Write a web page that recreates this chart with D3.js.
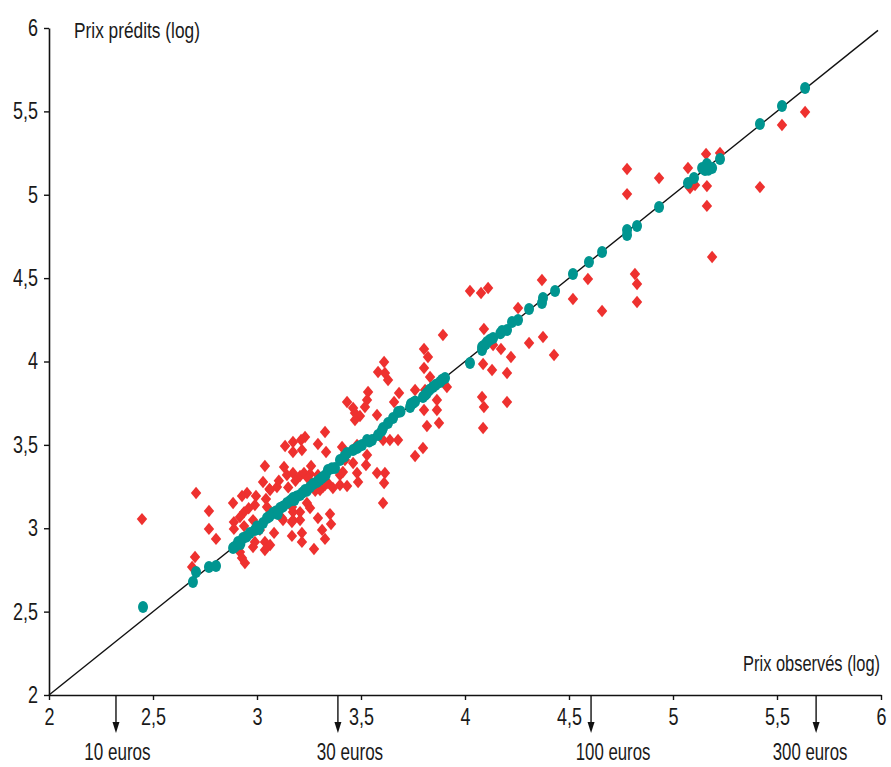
<!DOCTYPE html>
<html>
<head>
<meta charset="utf-8">
<script src="https://cdn.jsdelivr.net/npm/d3@7"></script>
<style>
  body { margin: 0; background: #fff; }
  svg { display: block; }
  text { font-family: "Liberation Sans", Arial, sans-serif; fill: #1a1a1a; }
</style>
</head>
<body>
<div id="chart"></div>
<script>
// red diamonds: observed (x) vs predicted (y), log prices
var redObserved = [3.327, 3.231, 3.135, 3.173, 3.212, 3.173, 3.216, 3.293, 3.332, 3.409,
  3.038, 3.130, 3.144, 3.173, 3.207, 3.260, 3.255, 3.293, 3.029, 3.063,
  3.096, 2.952, 2.928, 2.995, 2.885, 2.990, 3.043, 3.048, 2.938, 2.918,
  2.889, 2.889, 2.981, 2.938, 3.014, 3.240, 3.255, 3.207, 3.173, 3.168,
  3.173, 3.125, 3.207, 3.293, 3.351, 3.356, 3.313, 3.327, 3.168, 3.216,
  3.216, 3.082, 3.038, 2.990, 2.981, 3.063, 3.038, 3.274, 2.918, 2.928,
  2.942, 3.168, 3.120, 3.423, 3.462, 3.524, 3.481, 3.486, 3.399, 3.399,
  3.433, 3.577, 3.615, 3.611, 3.606, 3.317, 3.341, 3.365, 3.303, 3.413,
  3.226, 3.327, 3.894, 3.803, 3.822, 3.803, 3.832, 3.611, 3.582, 3.615,
  3.630, 3.534, 3.529, 3.519, 3.433, 3.462, 3.471, 3.495, 3.471, 3.577,
  3.683, 3.659, 3.760, 3.808, 3.803, 3.865, 3.865, 3.913, 3.817, 3.875,
  3.678, 3.639, 3.606, 3.760, 3.798, 3.529, 3.481, 4.024, 4.077, 4.111,
  4.370, 4.591, 4.519, 4.659, 4.817, 4.827, 4.827, 4.255, 4.091, 4.135,
  4.173, 4.221, 4.087, 4.130, 4.202, 4.308, 4.375, 4.428, 4.082, 4.091,
  4.202, 4.087, 4.779, 4.779, 4.933, 5.072, 5.159, 5.226, 5.082, 5.106,
  5.163, 5.163, 5.418, 5.524, 5.635, 5.188, 2.447, 2.707, 2.769, 2.769,
  2.803, 2.702, 2.688, 3.105, 3.150, 3.185, 3.245, 3.280, 3.060, 2.960]
var redPredicted = [3.577, 3.547, 3.493, 3.517, 3.529, 3.457, 3.469, 3.505, 3.457, 3.487,
  3.373, 3.367, 3.319, 3.331, 3.313, 3.373, 3.325, 3.319, 3.277, 3.229,
  3.247, 3.211, 3.193, 3.193, 3.151, 3.139, 3.175, 3.127, 3.097, 3.067,
  3.037, 2.996, 3.049, 3.013, 2.990, 3.151, 3.121, 3.097, 3.097, 3.127,
  3.049, 3.049, 3.049, 3.061, 3.085, 3.025, 2.990, 2.936, 2.954, 2.972,
  2.918, 2.972, 2.918, 2.918, 2.888, 2.900, 2.870, 2.876, 2.858, 2.822,
  2.792, 3.037, 3.061, 3.409, 3.391, 3.379, 3.331, 3.277, 3.319, 3.259,
  3.253, 3.331, 3.331, 3.271, 3.151, 3.247, 3.271, 3.241, 3.229, 3.337,
  3.331, 3.259, 4.159, 4.075, 4.027, 3.961, 3.907, 3.997, 3.937, 3.931,
  3.889, 3.817, 3.769, 3.727, 3.757, 3.721, 3.691, 3.673, 3.649, 3.679,
  3.811, 3.757, 3.829, 3.829, 3.709, 3.709, 3.769, 3.847, 3.613, 3.631,
  3.529, 3.529, 3.529, 3.433, 3.481, 3.439, 3.499, 4.423, 4.411, 4.441,
  4.489, 4.495, 4.375, 4.303, 4.525, 4.465, 4.357, 4.321, 4.195, 4.099,
  4.075, 4.027, 3.985, 3.949, 3.931, 4.111, 4.147, 4.039, 3.787, 3.727,
  3.757, 3.601, 5.154, 5.004, 5.100, 5.160, 5.244, 5.250, 5.040, 5.058,
  5.052, 4.933, 5.046, 5.418, 5.496, 4.627, 3.055, 3.211, 3.103, 2.996,
  2.936, 2.828, 2.768, 3.285, 3.245, 3.285, 3.300, 3.225, 3.235, 3.120]

// teal circles: observed (x) vs predicted (y)
var tealObserved = [2.452, 2.692, 2.707, 2.769, 2.803, 2.885, 2.909, 2.933, 2.966, 2.990,
  3.029, 3.048, 3.077, 3.111, 3.144, 3.173, 3.207, 3.231, 3.255, 3.288,
  3.317, 3.341, 3.375, 3.399, 3.433, 3.462, 3.481, 3.505, 3.529, 3.553,
  3.582, 3.606, 3.630, 3.654, 3.678, 3.736, 3.750, 3.798, 3.817, 3.846,
  3.880, 3.904, 4.024, 4.082, 4.082, 4.106, 4.135, 4.178, 4.202, 4.226,
  4.255, 4.308, 4.370, 4.375, 4.433, 4.519, 4.596, 4.659, 4.779, 4.779,
  4.827, 4.933, 5.072, 5.101, 5.154, 5.163, 5.188, 5.226, 5.418, 5.524,
  5.635, 2.895, 2.920, 2.950, 3.000, 3.060, 3.090, 3.125, 3.160, 3.190,
  3.220, 3.270, 3.300, 3.330, 3.360, 3.420, 3.490, 3.540, 3.600, 3.690,
  3.740, 3.760, 3.810, 3.830, 3.860, 3.890, 4.090, 4.100, 4.120, 4.170,
  5.140, 5.170, 3.010, 3.100, 3.180, 3.240, 3.310]
var tealPredicted = [2.528, 2.678, 2.738, 2.768, 2.774, 2.882, 2.918, 2.942, 2.972, 2.990,
  3.031, 3.061, 3.091, 3.121, 3.151, 3.181, 3.199, 3.229, 3.247, 3.277,
  3.307, 3.349, 3.361, 3.409, 3.451, 3.469, 3.481, 3.499, 3.529, 3.529,
  3.559, 3.601, 3.631, 3.661, 3.697, 3.727, 3.751, 3.787, 3.811, 3.847,
  3.877, 3.901, 3.991, 4.069, 4.087, 4.117, 4.141, 4.183, 4.189, 4.237,
  4.249, 4.315, 4.351, 4.381, 4.423, 4.525, 4.597, 4.657, 4.759, 4.789,
  4.813, 4.927, 5.070, 5.100, 5.148, 5.184, 5.160, 5.214, 5.424, 5.532,
  5.640, 2.890, 2.905, 2.950, 3.010, 3.070, 3.100, 3.130, 3.165, 3.190,
  3.215, 3.265, 3.290, 3.320, 3.360, 3.430, 3.490, 3.520, 3.585, 3.700,
  3.745, 3.760, 3.800, 3.830, 3.860, 3.890, 4.095, 4.105, 4.130, 4.170,
  5.160, 5.150, 2.995, 3.085, 3.170, 3.225, 3.300]

var tickValues = [2, 2.5, 3, 3.5, 4, 4.5, 5, 5.5, 6]
var euroLabels = ['10 euros', '30 euros', '100 euros', '300 euros']
var euroArrowAt = [2.322, 3.389, 4.606, 5.688]
var euroLabelAt = [2.329, 3.447, 4.712, 5.659]

var width = 891, height = 767

var svg = d3.select('#chart')
  .append('svg')
    .attr('width', width)
    .attr('height', height)

var x = d3.scaleLinear().domain([2, 6]).range([49, 881])
var y = d3.scaleLinear().domain([2, 6]).range([695, 28])

var fmt = d => String(d).replace('.', ',')

// squeeze a text horizontally to a given width (condensed look)
function squeeze(sel, px, py, w) {
  var len = sel.node().getComputedTextLength()
  sel.attr('transform', `translate(${px}, ${py}) scale(${w / len}, 1)`)
}

// axes
svg.append('g')
    .attr('transform', `translate(0, ${y(2)})`)
    .call(d3.axisBottom(x).tickValues(tickValues).tickSize(5).tickSizeOuter(0).tickPadding(9).tickFormat(fmt))
svg.append('g')
    .attr('transform', `translate(${x(2)}, 0)`)
    .call(d3.axisLeft(y).tickValues(tickValues).tickSize(5).tickSizeOuter(0).tickPadding(6).tickFormat(fmt))

svg.selectAll('.domain').attr('stroke', '#111').attr('stroke-width', 1.6)
svg.selectAll('.tick line').attr('stroke', '#111').attr('stroke-width', 1.4)
svg.selectAll('.tick text')
    .attr('font-size', 23)
    .attr('fill', '#1a1a1a')
    .attr('textLength', d => Number.isInteger(d) ? 10 : 25)
    .attr('lengthAdjust', 'spacingAndGlyphs')
    .style('font-family', '"Liberation Sans", Arial, sans-serif')

// axis titles
svg.append('text')
    .text('Prix prédits (log)')
    .attr('font-size', 22)
    .call(squeeze, 74, 38, 126)

svg.append('text')
    .text('Prix observés (log)')
    .attr('text-anchor', 'end')
    .attr('font-size', 22)
    .call(squeeze, 880, 671, 137)

// diagonal y = x
svg.append('line')
    .attr('x1', x(2))
    .attr('y1', y(2))
    .attr('x2', x(6) - 3)
    .attr('y2', y(6 - 3 / 208))
    .attr('stroke', '#111')
    .attr('stroke-width', 1.4)

// red diamonds
svg.append('g')
  .selectAll('path.red')
  .data(redObserved.map((d, i) => [d, redPredicted[i]]))
  .join('path')
    .attr('class', 'red')
    .attr('d', d => {
      var cx = x(d[0]), cy = y(d[1])
      return `M${cx},${cy - 6.2}L${cx + 5.2},${cy}L${cx},${cy + 6.2}L${cx - 5.2},${cy}Z`
    })
    .attr('fill', '#ee312f')

// teal circles
svg.append('g')
  .selectAll('ellipse.teal')
  .data(tealObserved.map((d, i) => [d, tealPredicted[i]]))
  .join('ellipse')
    .attr('class', 'teal')
    .attr('cx', d => x(d[0]))
    .attr('cy', d => y(d[1]))
    .attr('rx', 5)
    .attr('ry', 6)
    .attr('fill', '#009590')

// euro arrows
var arrows = svg.append('g')
arrows.selectAll('line')
  .data(euroArrowAt)
  .join('line')
    .attr('x1', d => x(d))
    .attr('x2', d => x(d))
    .attr('y1', y(2))
    .attr('y2', y(2) + 30)
    .attr('stroke', '#111')
    .attr('stroke-width', 1.4)
arrows.selectAll('path')
  .data(euroArrowAt)
  .join('path')
    .attr('d', d => `M${x(d) - 3.5},${y(2) + 27}L${x(d) + 3.5},${y(2) + 27}L${x(d)},${y(2) + 38}Z`)
    .attr('fill', '#111')

svg.append('g')
  .selectAll('text')
  .data(euroLabels)
  .join('text')
    .text(d => d)
    .attr('text-anchor', 'middle')
    .attr('font-size', 23)
    .each(function (d, i) {
      d3.select(this).call(squeeze, x(euroLabelAt[i]), 760, d.length * 8.3)
    })
</script>
</body>
</html>
